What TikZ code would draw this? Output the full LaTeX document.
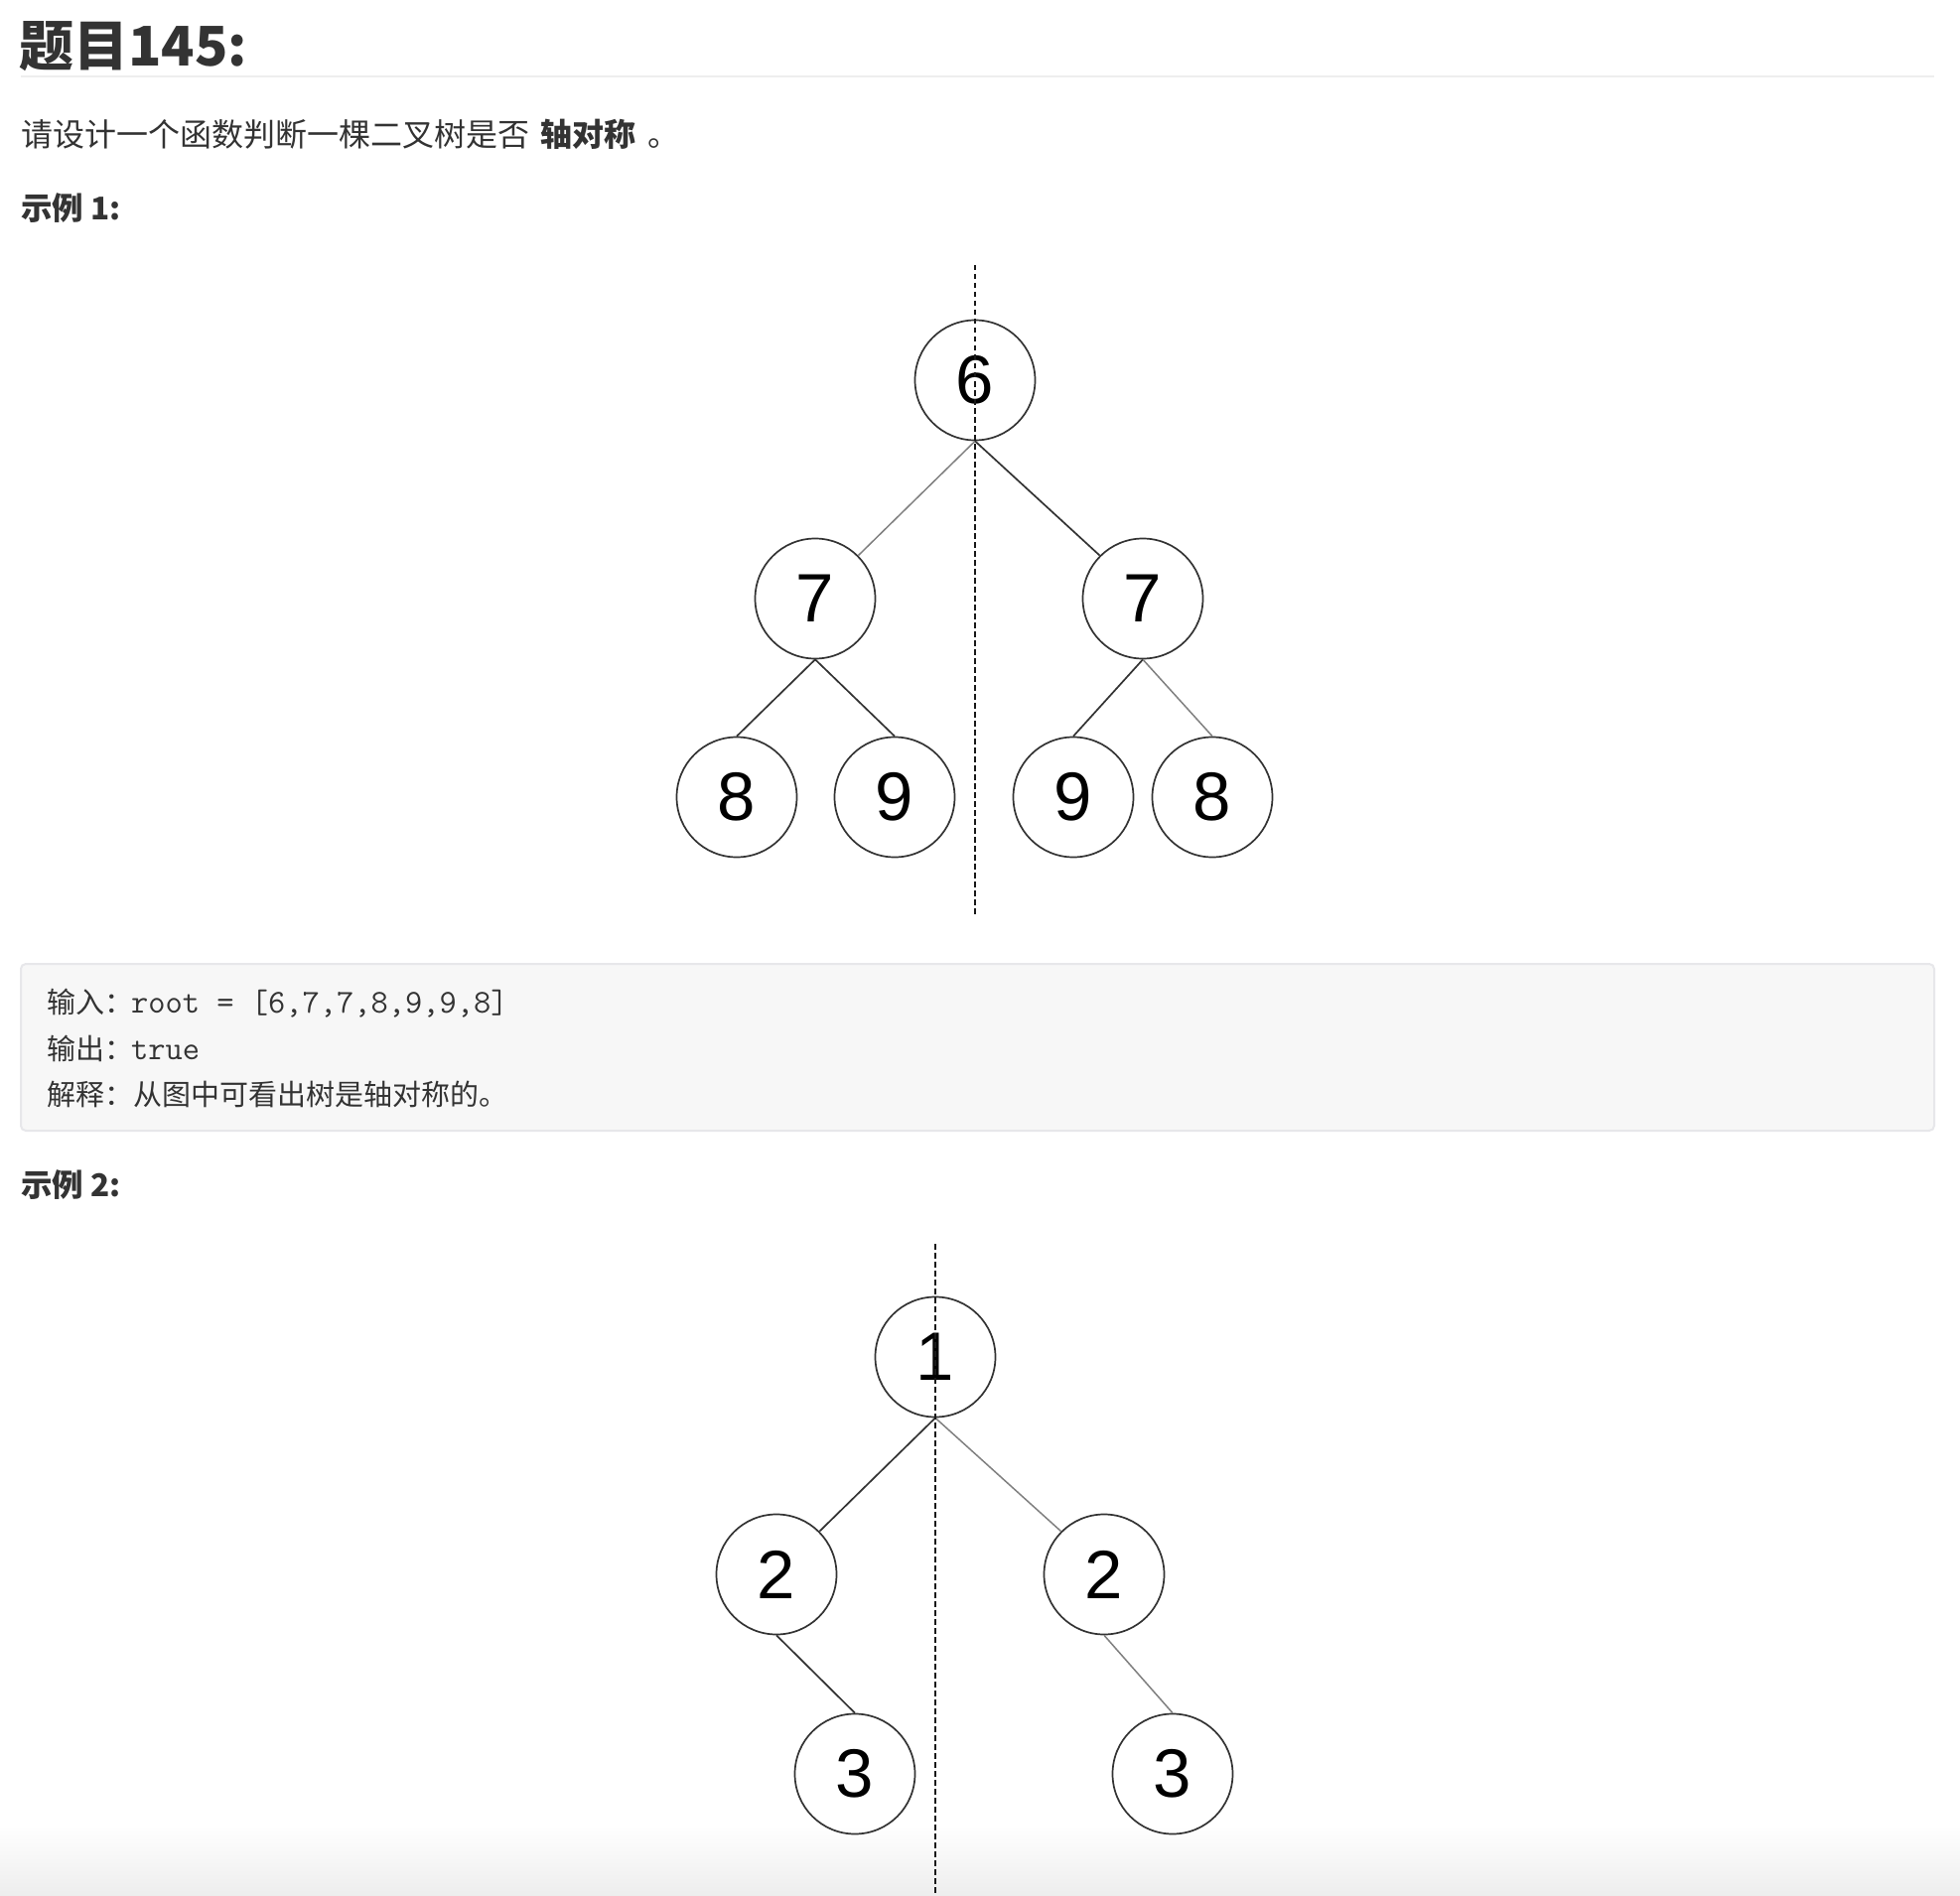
\documentclass[tikz,border=0pt]{standalone}
\usepackage{fontspec}
\setmainfont{Liberation Sans}
\newfontfamily\cjk{Noto Sans CJK SC}
\definecolor{textgray}{HTML}{333333}
\definecolor{rulegray}{HTML}{EEEEEE}
\definecolor{codebg}{HTML}{F7F7F7}
\definecolor{codeborder}{HTML}{E7E7EA}
\begin{document}
\begin{tikzpicture}[x=1pt,y=-1pt,
  treenode/.style={circle, draw=black!80, line width=1.7pt, minimum size=121pt, inner sep=0pt, font=\fontsize{69}{69}\selectfont},
  darkedge/.style={draw=black!80, line width=1.7pt},
  lightedge/.style={draw=black!50, line width=1.5pt},
  axisline/.style={draw=black!90, line width=1.5pt, dash pattern=on 5.5pt off 3.5pt},
  txt/.style={anchor=west, inner sep=0pt, text=textgray}]
\useasboundingbox (0,0) rectangle (1974,1910);
\fill[white] (0,0) rectangle (1974,1910);
\shade[top color=white, bottom color=black!7] (0,1838) rectangle (1974,1910);

% header
\node[txt, font=\cjk\bfseries\fontsize{55}{60}\selectfont] (title) at (19,47) {题目145:};
\draw[rulegray, line width=2pt] (21,77) -- (1948,77);
\node[txt, font=\cjk\fontsize{32}{36}\selectfont] (q) at (21,135) {请设计一个函数判断一棵二叉树是否\hspace{11pt}{\bfseries 轴对称}\hspace{12pt}。};
\node[txt, font=\cjk\bfseries\fontsize{31.5}{36}\selectfont] (ex1) at (21,210) {示例 1:};

% tree 1
\node[treenode] (r6) at (982,383) {6};
\node[treenode] (a7) at (821,603) {7};
\node[treenode] (b7) at (1151,603) {7};
\node[treenode] (c8) at (742,803) {8};
\node[treenode] (d9) at (901,803) {9};
\node[treenode] (e9) at (1081,803) {9};
\node[treenode] (f8) at (1221,803) {8};
\draw[lightedge] (r6.south) -- (a7.45);
\draw[darkedge] (r6.south) -- (b7.135);
\draw[darkedge] (a7.south) -- (c8.north);
\draw[darkedge] (a7.south) -- (d9.north);
\draw[darkedge] (b7.south) -- (e9.north);
\draw[lightedge] (b7.south) -- (f8.north);
\coordinate (ax1t) at (982,267);
\coordinate (ax1b) at (982,923);
\draw[axisline] (ax1t) -- (ax1b);

% code box
\draw[codeborder, fill=codebg, line width=2pt, rounded corners=5pt] (21,971) rectangle (1948,1139);
\node[txt] (in1) at (47,1011) {\cjk\fontsize{29}{34}\selectfont 输入：\hspace{-2pt}\ttfamily\fontsize{33.5}{34}\selectfont root = [6,7,7,8,9,9,8]};
\node[txt] (out1) at (47,1056) {\cjk\fontsize{29}{34}\selectfont 输出：\hspace{-2pt}\ttfamily\fontsize{33.5}{34}\selectfont true};
\node[txt] (exp1) at (47,1102) {\cjk\fontsize{29}{34}\selectfont 解释：从图中可看出树是轴对称的。};

\node[txt, font=\cjk\bfseries\fontsize{31.5}{36}\selectfont] (ex2) at (21,1194) {示例 2:};

% tree 2
\node[treenode] (r1) at (942,1367) {1};
\node[treenode] (l2) at (782,1586) {2};
\node[treenode] (q2) at (1112,1586) {2};
\node[treenode] (l3) at (861,1787) {3};
\node[treenode] (q3) at (1181,1787) {3};
\draw[darkedge] (r1.south) -- (l2.45);
\draw[lightedge] (r1.south) -- (q2.135);
\draw[darkedge] (l2.south) -- (l3.north);
\draw[lightedge] (q2.south) -- (q3.north);
\coordinate (ax2t) at (942,1253);
\coordinate (ax2b) at (942,1910);
\draw[axisline] (ax2t) -- (ax2b);
\end{tikzpicture}
\end{document}
